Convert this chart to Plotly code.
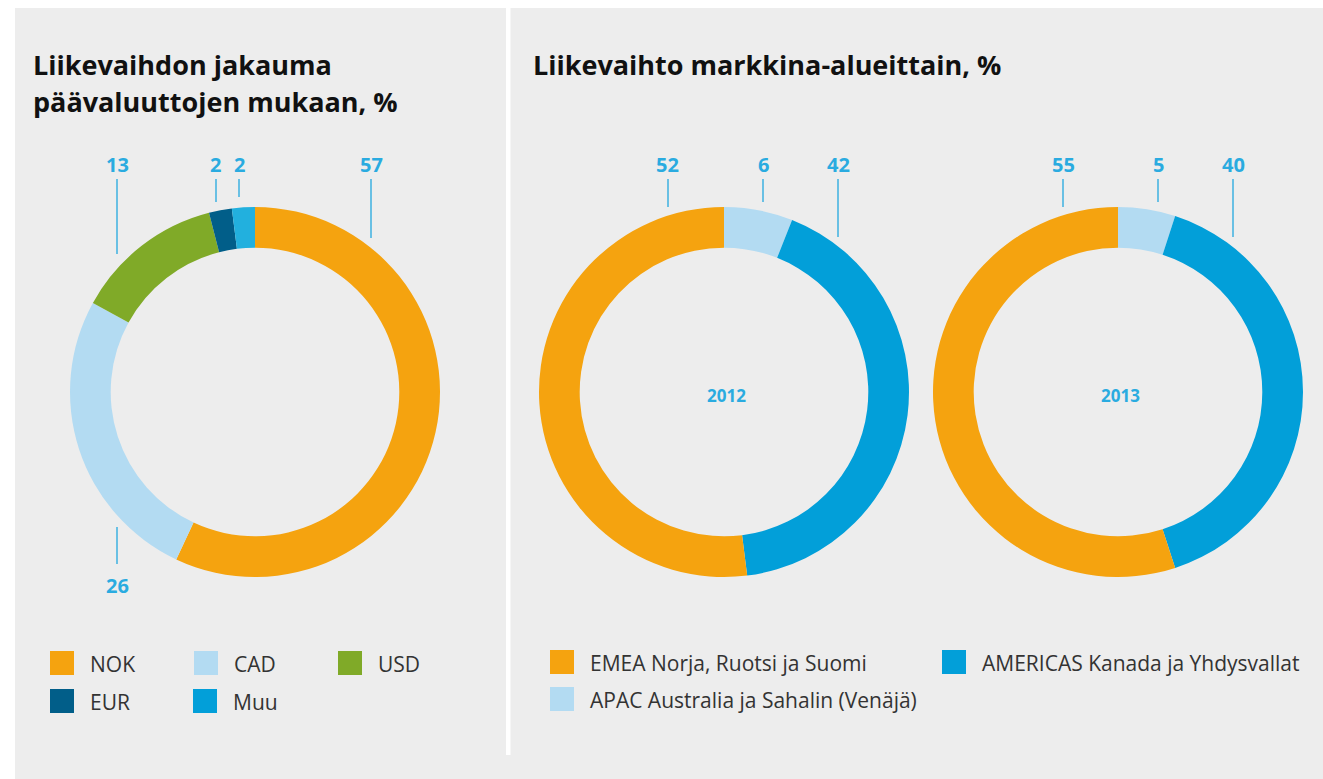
import plotly.graph_objects as go

W, H = 1323, 779
OFF = 0  # page body margin removed via post_script

# ---------------- data ----------------
currency_labels = ["NOK", "CAD", "USD", "EUR", "Muu"]
currency_values = [57, 26, 13, 2, 2]
currency_colors = ["#f5a30f", "#b3dbf2", "#80aa28", "#015e89", "#22b0de"]
currency_legend_colors = ["#f5a30f", "#b3dbf2", "#80aa28", "#015e89", "#029fd9"]

region_labels = ["APAC Australia ja Sahalin (Venäjä)",
                 "AMERICAS Kanada ja Yhdysvallat",
                 "EMEA Norja, Ruotsi ja Suomi"]
region_colors = ["#b3dbf2", "#029fd9", "#f5a30f"]
values_2012 = [6, 42, 52]
values_2013 = [5, 40, 55]
years = ["2012", "2013"]

title_left = ["Liikevaihdon jakauma", "päävaluuttojen mukaan, %"]
title_right = "Liikevaihto markkina-alueittain, %"

# ---------------- layout helpers ----------------
BG = "#ededed"
LABEL_BLUE = "#2aabe0"
LINE_BLUE = "#3cb0e0"
TEXT_GRAY = "#333333"


def px(x):
    return (x - OFF) / W


def py(y):
    return 1 - (y - OFF) / H


def domain(cx, cy, r):
    return dict(x=[px(cx - r), px(cx + r)], y=[py(cy + r), py(cy - r)])


R = 185
HOLE = 0.78
centers = [(255, 392), (724, 392), (1118, 392)]

fig = go.Figure()

fig.add_trace(go.Pie(
    labels=currency_labels, values=currency_values,
    marker=dict(colors=currency_colors, line=dict(width=0)),
    hole=HOLE, sort=False, direction="clockwise", rotation=0,
    textinfo="none", showlegend=False, domain=domain(*centers[0], R)))

for vals, c in zip([values_2012, values_2013], centers[1:]):
    fig.add_trace(go.Pie(
        labels=region_labels, values=vals,
        marker=dict(colors=region_colors, line=dict(width=0)),
        hole=HOLE, sort=False, direction="clockwise", rotation=0,
        textinfo="none", showlegend=False, domain=domain(*c, R)))

shapes = []
annotations = []

# background panels
shapes.append(dict(type="rect", xref="paper", yref="paper", layer="below",
                   x0=px(15), x1=1.0, y0=0.0, y1=py(8),
                   fillcolor=BG, line=dict(width=0)))
shapes.append(dict(type="rect", xref="paper", yref="paper", layer="below",
                   x0=px(506), x1=px(510.5), y0=py(755), y1=py(5),
                   fillcolor="white", line=dict(width=0)))

# titles
TITLE_FONT = dict(family="Open Sans", size=27, color="#111111", weight="bold")
for i, t in enumerate(title_left):
    annotations.append(dict(text=t, x=px(31), y=py([64, 102][i]), xref="paper", yref="paper",
                            xanchor="left", yanchor="middle", showarrow=False, font=TITLE_FONT))
annotations.append(dict(text=title_right, x=px(531), y=py(64), xref="paper", yref="paper",
                        xanchor="left", yanchor="middle", showarrow=False, font=TITLE_FONT))


def value_label(val, x, ytext, yl0, yl1):
    annotations.append(dict(text=str(val), x=px(x), y=py(ytext), xref="paper", yref="paper",
                            xanchor="center", yanchor="middle", showarrow=False,
                            font=dict(family="Open Sans", size=20, color=LABEL_BLUE, weight="bold")))
    shapes.append(dict(type="line", xref="paper", yref="paper",
                       x0=px(x), x1=px(x), y0=py(yl0), y1=py(yl1),
                       line=dict(color=LINE_BLUE, width=1.5)))


# donut 1 labels (NOK, CAD, USD, EUR, Muu)
cur_label_pos = [(371, 164, 179, 238), (117, 585, 527, 564), (117, 164, 179, 254),
                 (216, 164, 179, 202), (239, 164, 179, 197)]
for v, (x, yt, a, b) in zip(currency_values, cur_label_pos):
    value_label(v, x, yt, a, b)

# region donut labels (APAC, AMERICAS, EMEA)
reg_label_pos = [
    [(763, 164, 179, 202), (838, 164, 179, 237), (668, 164, 179, 207)],
    [(1158, 164, 179, 202), (1233, 164, 179, 237), (1063, 164, 179, 207)],
]
for vals, poss in zip([values_2012, values_2013], reg_label_pos):
    for v, (x, yt, a, b) in zip(vals, poss):
        value_label(v, x, yt, a, b)

# year labels in donut centres
for yr, (cx, cy) in zip(years, centers[1:]):
    annotations.append(dict(text=yr, x=px(cx + 2), y=py(cy + 3), xref="paper", yref="paper",
                            xanchor="center", yanchor="middle", showarrow=False,
                            font=dict(family="Open Sans", size=17, color=LABEL_BLUE, weight="bold")))


def legend_item(label, color, x, y):
    shapes.append(dict(type="rect", xref="paper", yref="paper",
                       x0=px(x), x1=px(x + 24), y0=py(y + 24), y1=py(y),
                       fillcolor=color, line=dict(width=0)))
    annotations.append(dict(text=label, x=px(x + 38), y=py(y + 13), xref="paper", yref="paper",
                            xanchor="left", yanchor="middle", showarrow=False,
                            font=dict(family="Open Sans", size=21, color=TEXT_GRAY)))


cur_leg_pos = [(50, 651), (194, 651), (338, 651), (50, 689), (193, 689)]
for lab, col, (x, y) in zip(currency_labels, currency_legend_colors, cur_leg_pos):
    legend_item(lab, col, x, y)

reg_leg_pos = [(550, 687), (942, 650), (550, 650)]
for lab, col, (x, y) in zip(region_labels, region_colors, reg_leg_pos):
    legend_item(lab, col, x, y)

fig.update_layout(width=W, height=H, autosize=False,
                  margin=dict(l=0, r=0, t=0, b=0),
                  paper_bgcolor="white", plot_bgcolor="white",
                  shapes=shapes, annotations=annotations, showlegend=False)

fig.write_html("out.html", config={"displayModeBar": False},
               post_script="document.body.style.margin='0';document.body.style.overflow='hidden';")
